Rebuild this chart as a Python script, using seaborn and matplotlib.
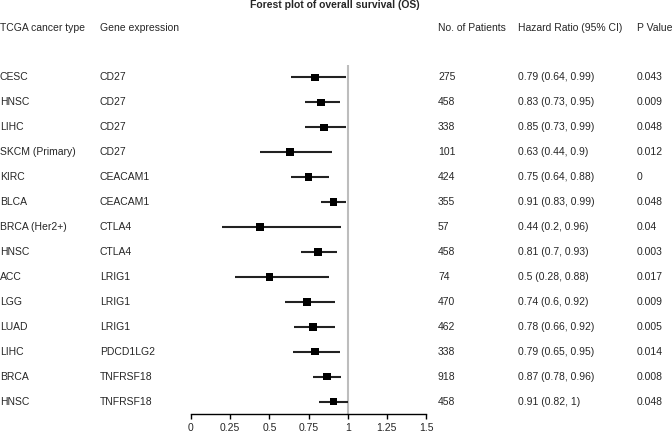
import numpy as np
import pandas as pd
import seaborn as sns
import matplotlib.pyplot as plt
import matplotlib.transforms as mtransforms

# values
cancer_types = ['CESC', 'HNSC', 'LIHC', 'SKCM (Primary)', 'KIRC', 'BLCA', 'BRCA (Her2+)',
                'HNSC', 'ACC', 'LGG', 'LUAD', 'LIHC', 'BRCA', 'HNSC']
genes = ['CD27', 'CD27', 'CD27', 'CD27', 'CEACAM1', 'CEACAM1', 'CTLA4',
         'CTLA4', 'LRIG1', 'LRIG1', 'LRIG1', 'PDCD1LG2', 'TNFRSF18', 'TNFRSF18']
patients = [275, 458, 338, 101, 424, 355, 57, 458, 74, 470, 462, 338, 918, 458]
hazard = [0.79, 0.83, 0.85, 0.63, 0.75, 0.91, 0.44, 0.81, 0.5, 0.74, 0.78, 0.79, 0.87, 0.91]
ci_low = [0.64, 0.73, 0.73, 0.44, 0.64, 0.83, 0.2, 0.7, 0.28, 0.6, 0.66, 0.65, 0.78, 0.82]
ci_high = [0.99, 0.95, 0.99, 0.9, 0.88, 0.99, 0.96, 0.93, 0.88, 0.92, 0.92, 0.95, 0.96, 1]
p_values = [0.043, 0.009, 0.048, 0.012, 0, 0.048, 0.04, 0.003, 0.017, 0.009, 0.005, 0.014, 0.008, 0.048]
x_ticks = [0, 0.25, 0.5, 0.75, 1, 1.25, 1.5]

df = pd.DataFrame({'row': np.arange(len(hazard)), 'hr': hazard, 'lo': ci_low, 'hi': ci_high})

sns.set_style('white')
plt.rcParams['font.family'] = ['Liberation Sans', 'DejaVu Sans']
fs = 7.5

W, H = 672, 437
fig = plt.figure(figsize=(W / 100, H / 100), dpi=100)
ax = fig.add_axes([191 / W, 1 - 414 / H, 235 / W, 349 / H])

ax.axvline(1, color='#bdbdbd', lw=1.5, zorder=0)
ax.hlines(df['row'], df['lo'], df['hi'], color='#222222', lw=1.5)
sns.scatterplot(data=df, x='hr', y='row', marker='s', color='black', s=30,
                edgecolor='none', ax=ax, zorder=3, legend=False)

ax.set_xlim(0, 1.5)
ax.set_ylim(len(hazard) - 0.5, -0.5)
ax.set_xticks(x_ticks)
ax.set_xticklabels([f'{t:g}' for t in x_ticks], fontsize=fs)
ax.set_yticks([])
ax.set_xlabel('')
ax.set_ylabel('')
for s in ['top', 'right', 'left']:
    ax.spines[s].set_visible(False)
ax.spines['bottom'].set_color('black')
ax.spines['bottom'].set_linewidth(1)
ax.tick_params(axis='x', direction='out', length=3.5, width=1, color='black', pad=3, bottom=True)

trans = mtransforms.blended_transform_factory(fig.transFigure, ax.transData)
cols = [0, 100, 438, 518, 637]
header_y = -1.98
headers = ['TCGA cancer type', 'Gene expression', 'No. of Patients', 'Hazard Ratio (95% CI)', 'P Value']
for x, h in zip(cols, headers):
    ax.text(x / W, header_y, h, transform=trans, fontsize=fs, va='center', ha='left', clip_on=False)

for i in range(len(hazard)):
    vals = [cancer_types[i], genes[i], str(patients[i]),
            f'{hazard[i]:g} ({ci_low[i]:g}, {ci_high[i]:g})', f'{p_values[i]:g}']
    for x, v in zip(cols, vals):
        ax.text(x / W, i, v, transform=trans, fontsize=fs, va='center', ha='left', clip_on=False)

fig.text(335 / W, 1 - 5 / H, 'Forest plot of overall survival (OS)', fontsize=fs,
         fontweight='bold', ha='center', va='center')

fig.savefig('out.png', dpi=100)
